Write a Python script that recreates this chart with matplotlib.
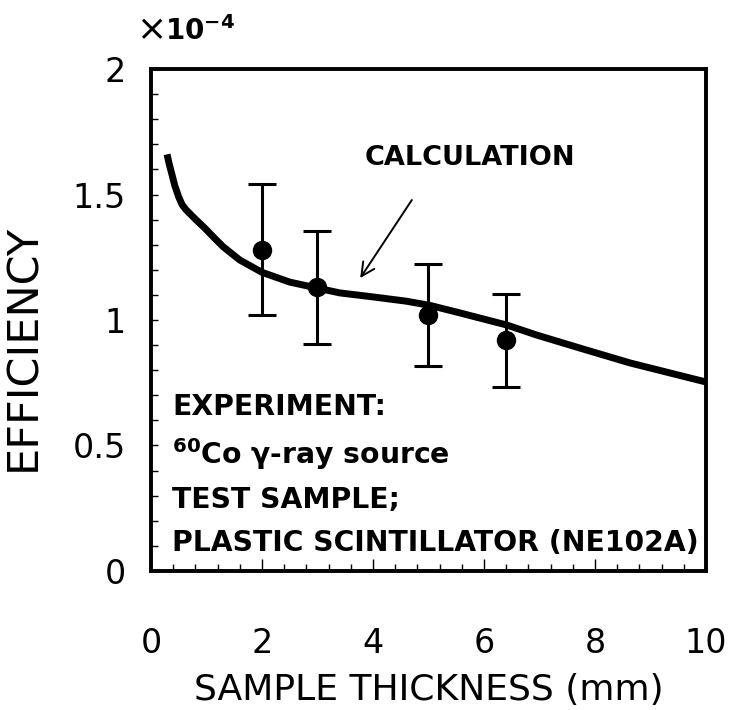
import matplotlib
matplotlib.use("Agg")
import matplotlib.pyplot as plt
from matplotlib.ticker import MultipleLocator, FuncFormatter

plt.rcParams['font.family'] = ['DejaVu Sans']
plt.rcParams['mathtext.fontset'] = 'dejavusans'

# Calculated efficiency curve (units of 1e-4)
calc_thickness = [0.29, 0.33, 0.38, 0.43, 0.50, 0.56, 0.62, 0.70, 0.79, 0.97, 1.15,
                  1.30, 1.60, 2.0, 2.5, 3.0, 3.4, 4.0, 4.6, 5.03, 5.5, 6.41, 6.95,
                  7.73, 8.63, 9.35, 10.0]
calc_efficiency = [1.66, 1.62, 1.578, 1.535, 1.49, 1.46, 1.442, 1.424, 1.404, 1.366,
                   1.325, 1.292, 1.239, 1.19, 1.151, 1.127, 1.108, 1.092, 1.075, 1.058,
                   1.032, 0.98, 0.94, 0.888, 0.829, 0.789, 0.753]

# Measured efficiencies with error bars (units of 1e-4)
exp_thickness = [2.0, 3.0, 5.0, 6.4]
exp_efficiency = [1.28, 1.13, 1.02, 0.92]
exp_error = [0.26, 0.225, 0.205, 0.185]

x_ticks = [0, 2, 4, 6, 8, 10]
y_ticks = [0, 0.5, 1, 1.5, 2]

fig = plt.figure(figsize=(7.3, 7.1), dpi=100)
ax = fig.add_axes([0.2068, 0.1958, 0.7603, 0.707])

ax.plot(calc_thickness, calc_efficiency, color='black', lw=5,
        solid_capstyle='butt', solid_joinstyle='round')
ax.errorbar(exp_thickness, exp_efficiency, yerr=exp_error, fmt='o', color='black',
            markersize=13, elinewidth=2.2, capsize=10, capthick=2.2)

ax.set_xlim(0, 10)
ax.set_ylim(0, 2)
ax.set_xticks(x_ticks)
ax.set_yticks(y_ticks)
ax.xaxis.set_minor_locator(MultipleLocator(0.4))
ax.yaxis.set_minor_locator(MultipleLocator(0.1))
ax.yaxis.set_major_formatter(FuncFormatter(lambda v, p: f"{v:g}"))

for s in ax.spines.values():
    s.set_linewidth(2.8)
ax.tick_params(which='both', direction='in', top=False, right=False, width=1.0)
ax.tick_params(which='major', length=9, labelsize=24)
ax.tick_params(which='minor', length=5)
ax.tick_params(axis='y', which='major', length=5, pad=18)
ax.tick_params(axis='x', which='major', pad=40)

ax.set_xlabel('SAMPLE THICKNESS (mm)', fontsize=26, labelpad=10)
ax.set_ylabel('EFFICIENCY', fontsize=31)
ax.yaxis.set_label_coords(-0.192, 0.446)

# Multiplier shown above the y axis
ax.text(-0.27, 2.115, '×', fontsize=26, ha='left', va='baseline')
ax.text(0.25, 2.115, r'$\mathbf{10^{-4}}$', fontsize=20, ha='left', va='baseline')

ax.annotate('', xy=(3.77, 1.167), xytext=(4.70, 1.478),
            arrowprops=dict(arrowstyle='->', lw=1.4, color='black',
                            mutation_scale=24, shrinkA=0, shrinkB=0))
ax.text(5.75, 1.645, 'CALCULATION', fontsize=19.5, fontweight='bold',
        ha='center', va='center')

lines = ['EXPERIMENT:', r'$^{\mathbf{60}}$Co γ-ray source', 'TEST SAMPLE;',
         'PLASTIC SCINTILLATOR (NE102A)']
line_y = [407, 454, 500, 543]
for txt, py in zip(lines, line_y):
    ax.text((172 - 151) / 55.5, (571 - py) / 251, txt, fontsize=20.3,
            fontweight='bold', ha='left', va='center')

fig.savefig('out.png', dpi=100)
